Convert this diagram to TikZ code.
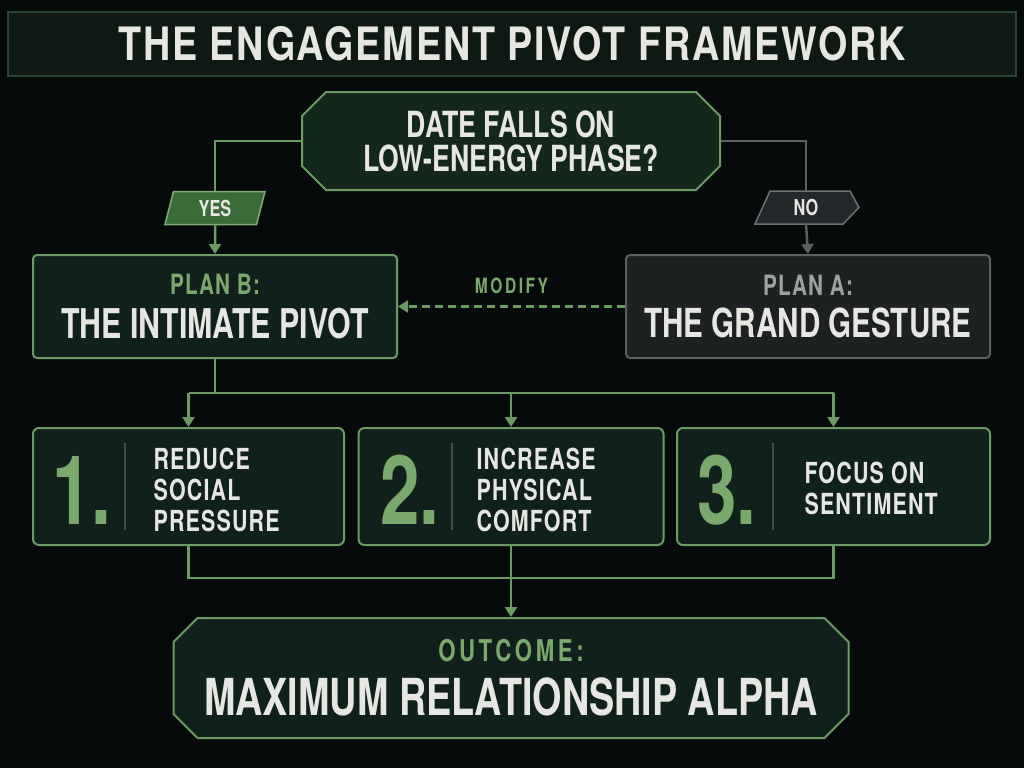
\documentclass[tikz,border=0pt]{standalone}
\usepackage{fontspec}
\setmainfont{TeX Gyre Heros}[FakeStretch=0.74]
\newfontfamily\spaced{TeX Gyre Heros}[FakeStretch=0.74, LetterSpace=4]
\newfontfamily\tracked{TeX Gyre Heros}[FakeStretch=0.74, LetterSpace=12]
\newfontfamily\titlefont{TeX Gyre Heros}[FakeStretch=0.82, LetterSpace=4]
\usepackage{xcolor}
\usepackage{tikz}
\usetikzlibrary{shapes,arrows,arrows.meta,positioning}

\definecolor{bgdark}{HTML}{070A0B}
\definecolor{titlefill}{HTML}{0E1913}
\definecolor{titleedge}{HTML}{2C4533}
\definecolor{boxgreen}{HTML}{10201A}
\definecolor{decidefill}{HTML}{13271B}
\definecolor{edgegreen}{HTML}{6B9A62}
\definecolor{textgreen}{HTML}{7BA86C}
\definecolor{textwhite}{HTML}{E6E6E3}
\definecolor{grayfill}{HTML}{1E2121}
\definecolor{grayedge}{HTML}{5C605F}
\definecolor{graytext}{HTML}{9EA2A1}
\definecolor{yesfill}{HTML}{3C6B3A}
\definecolor{yesedge}{HTML}{7FAE72}
\definecolor{nofill}{HTML}{25282A}
\definecolor{noedge}{HTML}{6E7271}
\definecolor{divline}{HTML}{3E5443}

\begin{document}
\begin{tikzpicture}[x=1pt, y=-1pt, >={Triangle[width=12pt,length=10pt]},
  gline/.style={draw=edgegreen, line width=2.5pt},
  grayline/.style={draw=grayedge, line width=2.5pt},
  greenbox/.style={draw=edgegreen, fill=boxgreen, line width=2pt, text=textwhite, align=center},
  stepbox/.style={greenbox, rounded corners=6pt, minimum height=117pt},
  numtext/.style={text=textgreen, font=\fontsize{96}{96}\selectfont\bfseries},
  steptext/.style={text=textwhite, anchor=west, align=left, font=\spaced\fontsize{29}{31}\selectfont\bfseries},
  tagtext/.style={text=textwhite, font=\fontsize{22}{22}\selectfont\bfseries, minimum height=33pt, inner sep=0pt}]

  \fill[bgdark] (0,0) rectangle (1024,768);
  \useasboundingbox (0,0) rectangle (1024,768);

  % title bar
  \node[draw=titleedge, fill=titlefill, line width=2pt, minimum width=1008pt, minimum height=64pt,
        text=textwhite, font=\titlefont\fontsize{46}{46}\selectfont\bfseries] (title) at (512,44)
        {THE ENGAGEMENT PIVOT FRAMEWORK};

  % decision
  \node[greenbox, fill=decidefill, chamfered rectangle, chamfered rectangle sep=12pt, minimum width=418pt, minimum height=98pt,
        font=\fontsize{36}{34}\selectfont\bfseries] (decide) at (511,141)
        {DATE FALLS ON\\LOW-ENERGY PHASE?};

  % yes / no tags
  \node[tagtext, trapezium, trapezium left angle=63, trapezium right angle=117, trapezium stretches body,
        draw=yesedge, fill=yesfill, line width=1.5pt, minimum width=100pt] (yes) at (215,208) {YES};
  \filldraw[draw=noedge, fill=nofill, line width=1.5pt]
        (770,191) -- (850,191) -- (859,207.5) -- (843,224) -- (755,224) -- cycle;
  \node[tagtext] (no) at (806,207.5) {NO};

  % plans
  \node[greenbox, rounded corners=4pt, minimum width=364pt, minimum height=103pt] (planb) at (215,306.5)
        {{\spaced\fontsize{28}{28}\selectfont\bfseries\color{textgreen}PLAN B:}\\[12pt]
         {\fontsize{41}{41}\selectfont\bfseries THE INTIMATE PIVOT}};
  \node[draw=grayedge, fill=grayfill, line width=2pt, rounded corners=4pt, text=textwhite, align=center,
        minimum width=364pt, minimum height=103pt] (plana) at (808,306.5)
        {{\spaced\fontsize{28}{28}\selectfont\bfseries\color{graytext}PLAN A:}\\[12pt]
         {\fontsize{40}{40}\selectfont\bfseries THE GRAND GESTURE}};

  % steps
  \node[stepbox, minimum width=311pt] (step1) at (188.5,486.5) {};
  \node[stepbox, minimum width=305pt] (step2) at (511,486.5) {};
  \node[stepbox, minimum width=313pt] (step3) at (833.5,486.5) {};

  \node[numtext] (num1) at (82,490) {1.};
  \node[numtext] (num2) at (410,490) {2.};
  \node[numtext] (num3) at (727,490) {3.};
  \draw[divline, line width=1.5pt] (125,443) -- (125,530);
  \draw[divline, line width=1.5pt] (452,443) -- (452,530);
  \draw[divline, line width=1.5pt] (773,443) -- (773,530);
  \node[steptext] (txt1) at (150,490) {REDUCE\\SOCIAL\\PRESSURE};
  \node[steptext] (txt2) at (473,490) {INCREASE\\PHYSICAL\\COMFORT};
  \node[steptext] (txt3) at (801,488) {FOCUS ON\\SENTIMENT};

  % outcome
  \node[greenbox, chamfered rectangle, chamfered rectangle sep=12pt, minimum width=675pt, minimum height=120pt] (outcome) at (511,678)
        {{\tracked\fontsize{30}{30}\selectfont\bfseries\color{textgreen}OUTCOME:}\\[15pt]
         {\fontsize{51}{51}\selectfont\bfseries MAXIMUM RELATIONSHIP ALPHA}};

  % connectors
  \draw[gline] (decide.west) -| (yes.north);
  \draw[gline, ->] (yes.south) -- (planb.north);
  \draw[grayline] (decide.east) -| (no.north);
  \draw[grayline, ->] (no.south) -- (plana.north);
  \draw[gline, dashed, dash pattern=on 8pt off 5pt, ->] (plana.west) -- node[above=8pt, text=textgreen,
        font=\tracked\fontsize{21}{21}\selectfont\bfseries] (modify) {MODIFY} (planb.east);

  \coordinate (bus) at (0,393);
  \draw[gline] (planb.south) -- (planb.south |- bus);
  \draw[gline] (step1.north |- bus) -- (step3.north |- bus);
  \foreach \s in {step1,step2,step3}
    \draw[gline, ->] (\s.north |- bus) -- (\s.north);

  \coordinate (join) at (0,578);
  \draw[gline] (step1.south) -- (step1.south |- join) -- (step3.south |- join) -- (step3.south);
  \draw[gline, ->] (step2.south) -- (outcome.north);
\end{tikzpicture}
\end{document}
